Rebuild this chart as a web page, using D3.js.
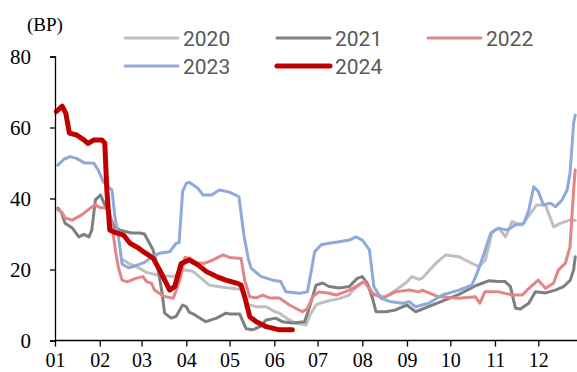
<!DOCTYPE html>
<html>
<head>
<meta charset="utf-8">
<script src="https://cdn.jsdelivr.net/npm/d3@7"></script>
<style>
  body { margin: 0; background: #fff; }
  svg { display: block; }
</style>
</head>
<body>
<div id="chart"></div>
<script>
// day of year -> spread (BP)
const s2020 = [[47.5,22.7],[52,21.5],[56.5,20.8],[63.4,19.2],[72.6,18.3],[81.8,18],[86.4,18.9],[89,19.9],[95.6,19.5],[100,18],[107,15.6],[116.3,15],[126.7,14.5],[129,14.5],[131.5,12.5],[133,10.3],[139.4,9.5],[146.4,9.5],[152,8.2],[155.5,7.7],[162.5,5.8],[167,4.8],[174,4.4],[176.5,7],[180.9,10],[184.4,10.6],[190,11.2],[197,11.8],[203.9,12.8],[206.2,14],[213,16.4],[215.5,16.2],[217.8,15],[221.2,12.8],[229.3,12.3],[236.2,14.2],[243.1,16.2],[247.5,18],[252.3,17.2],[254.6,17.6],[263.9,21.7],[270.8,24.1],[280,23.6],[289.2,21.7],[293.8,20.8],[298.4,22.7],[303,30.6],[307.6,31.7],[312.3,29.2],[316.9,33.5],[323.7,32.5],[333.9,38.2],[339.9,38.2],[345.7,32],[350.3,33],[357.2,34],[360.6,33.8]];

const s2021 = [[2,37.3],[4.5,36],[7,33],[12,31.7],[16.5,29.2],[20,29.9],[23.5,29.2],[25.5,31.1],[28,39.6],[31.5,41],[34,38.7],[37,36],[41,32],[45,31.1],[53,30.3],[58.8,30.3],[62,30],[68,25.5],[71.5,19.9],[74,14],[76,7.7],[80.5,6.3],[84,6.8],[88.5,10],[91,9.5],[93,8],[97,7.2],[104.5,5.3],[112,6.3],[118.5,7.7],[121,7.5],[128,7.5],[132.5,3.3],[137,3],[142,3.9],[146.5,5.8],[153,6.3],[157.5,5.3],[164.5,4.9],[173,5.3],[176.5,9.5],[181,15.6],[185.5,16.2],[190,15.2],[197,14.8],[204,15.2],[209.5,17.5],[213,18],[216.5,16.1],[220,12],[222.5,8.1],[229.3,8.1],[236,8.6],[244,10],[247,9],[250,8.1],[265,10.5],[280,13],[292,15.5],[300.5,16.8],[307.5,16.6],[312,16.6],[315.7,15.2],[319.2,9.1],[322.6,8.9],[328.4,10.5],[333,13.7],[340,13.4],[346.8,14.2],[352.6,15.2],[357.2,17],[359.5,19.9],[360.6,23.6]];

const s2022 = [[2,36.8],[5,36],[7,34.5],[12,33.9],[18.5,35.4],[24.5,37.3],[28,38.2],[31,37.5],[34,37.3],[37,37.3],[39,34],[42,25],[44,20.5],[46.5,17],[50,16.5],[56,17.5],[61,18],[63.5,16.6],[67,16.1],[69,14.2],[75,12.5],[82,11.9],[86.5,17],[90,23.4],[93,23.2],[98,22],[103.5,21.7],[109.5,22.7],[116.5,24.1],[121,23.4],[129,23.1],[131.5,17],[135,12.3],[139.5,12],[144,12.8],[148.5,12],[155.5,12],[162.5,10],[171.5,8.1],[175,9],[178.5,12.3],[183,13.7],[190,13.3],[195,12.8],[204,14.2],[214.5,16.6],[218,14.5],[220,13.3],[227,11.9],[236,13.7],[245.5,14.2],[252.5,13.7],[254.5,14.2],[266,12.3],[280,11.9],[291.5,12.3],[294.5,10.5],[298,13.7],[307.5,13.7],[317,12.8],[324,12.8],[328.5,14.7],[335,17],[340,14.7],[345.5,16.1],[349,19.9],[353.7,21.7],[357,26.4],[359.5,42.4],[360.6,48]];

const s2023 = [[2,49.4],[6,51],[10.5,51.8],[15,51.3],[20,50.1],[27,49.9],[30,48],[33.5,44.7],[37,43.3],[39.5,42.4],[41.5,34.9],[44,29.2],[46.5,21.5],[51,20.5],[55.5,21],[62,22],[66,23.2],[72.5,24.6],[79.5,25],[84,27.4],[86,27.5],[88.5,42],[91,44.3],[93.3,44.5],[99,42.9],[102.5,41],[108.5,41],[114,42.4],[121,41.8],[127.5,40.5],[131,29.5],[134,23],[136,20.3],[143,18],[151,17],[156.5,16.6],[160,13.7],[169.5,13.3],[175,13.7],[180,25],[184.5,27],[190,27.4],[197,27.8],[204,28.3],[208.5,29.2],[213,28.3],[218,25.5],[221,15.2],[226,11.9],[233,10.9],[241,10.5],[245.5,10.9],[250,9.5],[259,10.5],[268.5,12.8],[280,14.2],[289,15.6],[292.5,18.9],[297.5,24.6],[302,30.2],[307.5,31.6],[313.5,31.1],[319,32.5],[325,33],[328.5,36.8],[331.8,43.3],[335,42],[338.5,38.2],[343.5,38.7],[347,37.7],[351.5,39.6],[355,42.4],[357,47.1],[359.5,61.2],[360.6,63.5]];

const s2024 = [[1,64.5],[5,66],[7.5,64],[10,58.4],[15,57.9],[20,56.5],[23,55.5],[27,56.5],[32.5,56.5],[34.5,55.6],[36,42],[38,31.1],[42,30.4],[47.5,29.7],[52,27.4],[58,26],[62,24.8],[68,23.2],[72.5,19.9],[79.5,14.2],[83,15.2],[87.5,21.7],[93,22.7],[99,21.3],[105,19.4],[112,18],[118.5,17],[127,16],[129,15.6],[131.5,12.3],[135,6.7],[139.5,5.3],[146.5,3.9],[155.5,3],[164.5,3]];

const monthStarts = [0,31,60,91,121,152,182,213,244,274,305,335];
const monthLabels = ["01","02","03","04","05","06","07","08","09","10","11","12"];
const yTicks = [0,20,40,60,80];

const series = [
  { name: "2020", data: s2020, color: "#BFBFBF", width: 3 },
  { name: "2021", data: s2021, color: "#7F7F7F", width: 3 },
  { name: "2022", data: s2022, color: "#E48585", width: 3 },
  { name: "2023", data: s2023, color: "#8EAADC", width: 3 },
  { name: "2024", data: s2024, color: "#C00000", width: 5 }
];

const W = 577, H = 372;
const svg = d3.select("#chart").append("svg")
  .attr("width", W)
  .attr("height", H);

const x = d3.scaleLinear().domain([0, 366]).range([55, 583]);
const y = d3.scaleLinear().domain([0, 80]).range([340.5, 56.5]);

// lines
const line = d3.line()
  .x(d => x(d[0]))
  .y(d => y(d[1]));

svg.append("g").selectAll("path")
  .data(series)
  .enter().append("path")
  .attr("d", d => line(d.data))
  .attr("fill", "none")
  .attr("stroke", d => d.color)
  .attr("stroke-width", d => d.width)
  .attr("stroke-linejoin", "round")
  .attr("stroke-linecap", "round");

// y axis
const yAxis = svg.append("g")
  .attr("transform", "translate(55,0)")
  .call(d3.axisLeft(y).tickValues(yTicks).tickSize(5).tickPadding(19).tickFormat(d3.format("d")));

// x axis
const xAxis = svg.append("g")
  .attr("transform", "translate(0,340.5)")
  .call(d3.axisBottom(x).tickValues(monthStarts).tickSize(6).tickPadding(6)
    .tickFormat((d, i) => monthLabels[i]));

[yAxis, xAxis].forEach(g => {
  g.select(".domain").attr("stroke", "#000").attr("stroke-width", 1.3);
  g.selectAll(".tick line").attr("stroke", "#000").attr("stroke-width", 1.3);
  g.selectAll("text")
    .attr("fill", "#000")
    .style("font-family", "'Liberation Serif', 'Times New Roman', serif")
    .style("font-size", "21px");
});
xAxis.selectAll("text").style("font-size", "20px");
xAxis.select(".domain").attr("d", "M55,0H577");

svg.append("text")
  .attr("x", 45).attr("y", 31)
  .attr("text-anchor", "middle")
  .style("font-family", "'Liberation Serif', 'Times New Roman', serif")
  .style("font-size", "19px")
  .text("(BP)");

// legend
const legendPos = [
  { lx: 125, ly: 38 }, { lx: 277, ly: 38 }, { lx: 428, ly: 38 },
  { lx: 125, ly: 66 }, { lx: 277, ly: 66 }
];
const leg = svg.append("g").selectAll("g")
  .data(series)
  .enter().append("g")
  .attr("transform", (d, i) => `translate(${legendPos[i].lx},${legendPos[i].ly})`);
leg.append("line")
  .attr("x1", 0).attr("x2", 53)
  .attr("stroke", d => d.color)
  .attr("stroke-width", d => d.width)
  .attr("stroke-linecap", "round");
leg.append("text")
  .attr("x", 58).attr("y", 7.5)
  .attr("fill", "#595959")
  .style("font-family", "Roboto, 'Liberation Sans', Arial, sans-serif")
  .style("font-size", "21px")
  .text(d => d.name);
</script>
</body>
</html>
